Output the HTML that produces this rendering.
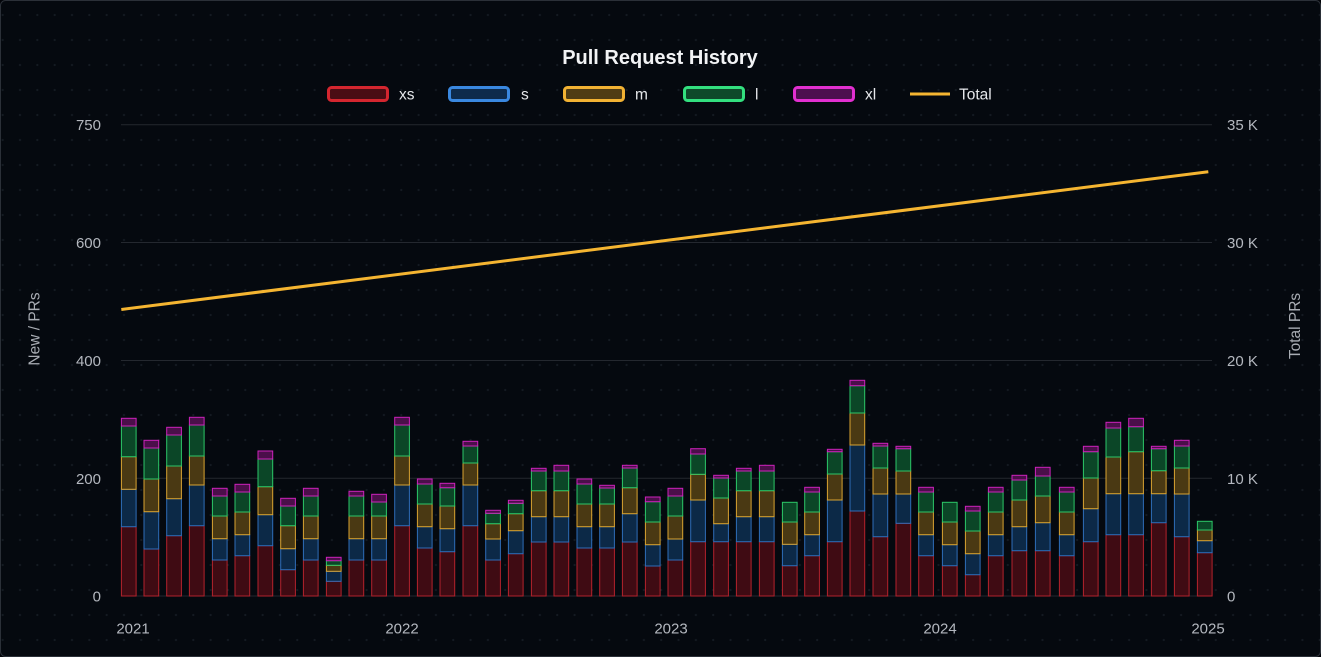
<!DOCTYPE html>
<html><head><meta charset="utf-8"><style>
html,body{margin:0;padding:0;background:#020409;}
svg{display:block;font-family:"Liberation Sans",Arial,sans-serif;}
.a{fill:#3f0b13;stroke:#b3222c;stroke-width:1}
.b{fill:#0c2947;stroke:#2e6db8;stroke-width:1}
.c{fill:#4a3913;stroke:#d9a331;stroke-width:1}
.d{fill:#0b4627;stroke:#2cc768;stroke-width:1}
.e{fill:#4b0f4a;stroke:#cc22bb;stroke-width:1}
.t{fill:#b4b8bf;font-size:15px}
.lg{fill:#e6e8eb;font-size:15.5px}
</style></head><body>
<svg width="1321" height="657" viewBox="0 0 1321 657" xmlns="http://www.w3.org/2000/svg">
<defs>
<pattern id="dots" x="0" y="0" width="17.33" height="25" patternUnits="userSpaceOnUse">
<circle cx="2.67" cy="15" r="1.1" fill="#141a22"/>
</pattern>
</defs>
<rect x="0.5" y="0.5" width="1320" height="656" rx="5" fill="#05090f" stroke="#2b3038"/>
<rect x="1" y="1" width="1319" height="655" rx="5" fill="url(#dots)"/>

<text x="660" y="64" text-anchor="middle" fill="#f2f3f5" font-size="20" font-weight="bold">Pull Request History</text>

<rect x="328.5" y="87.5" width="59" height="13" rx="3" fill="#4a0d14" stroke="#d4262f" stroke-width="3"/>
<text x="399" y="99.5" class="lg">xs</text>
<rect x="449.5" y="87.5" width="59" height="13" rx="3" fill="#0e2b4c" stroke="#3a88e0" stroke-width="3"/>
<text x="521" y="99.5" class="lg">s</text>
<rect x="564.5" y="87.5" width="59" height="13" rx="3" fill="#4f3c14" stroke="#f2b233" stroke-width="3"/>
<text x="635" y="99.5" class="lg">m</text>
<rect x="684.5" y="87.5" width="59" height="13" rx="3" fill="#0e4a2a" stroke="#33e07f" stroke-width="3"/>
<text x="755" y="99.5" class="lg">l</text>
<rect x="794.5" y="87.5" width="59" height="13" rx="3" fill="#4d0f4f" stroke="#e22fd0" stroke-width="3"/>
<text x="865" y="99.5" class="lg">xl</text>
<line x1="910" y1="94" x2="950" y2="94" stroke="#f5b531" stroke-width="3"/>
<text x="959" y="99.5" class="lg">Total</text>

<g stroke="#24282f" stroke-width="1">
<line x1="121" y1="124.7" x2="1212" y2="124.7"/>
<line x1="121" y1="242.5" x2="1212" y2="242.5"/>
<line x1="121" y1="360.5" x2="1212" y2="360.5"/>
<line x1="121" y1="478.3" x2="1212" y2="478.3"/>
<line x1="121" y1="596" x2="1212" y2="596"/>
</g>

<g class="t" text-anchor="end">
<text x="101" y="130.2">750</text>
<text x="101" y="248">600</text>
<text x="101" y="366">400</text>
<text x="101" y="483.8">200</text>
<text x="101" y="601.5">0</text>
</g>
<g class="t">
<text x="1227" y="130.2">35 K</text>
<text x="1227" y="248">30 K</text>
<text x="1227" y="366">20 K</text>
<text x="1227" y="483.8">10 K</text>
<text x="1227" y="601.5">0</text>
</g>
<g class="t" text-anchor="middle">
<text x="133" y="633.5">2021</text>
<text x="402" y="633.5">2022</text>
<text x="671" y="633.5">2023</text>
<text x="940" y="633.5">2024</text>
<text x="1208" y="633.5">2025</text>
</g>
<text transform="translate(39.5,329) rotate(-90)" text-anchor="middle" fill="#a9adb4" font-size="15.5">New / PRs</text>
<text transform="translate(1300,326) rotate(-90)" text-anchor="middle" fill="#a9adb4" font-size="15.5">Total PRs</text>

<g>
<rect class="a" x="121.4" y="526.7" width="14.7" height="69.3"/><rect class="b" x="121.4" y="489.3" width="14.7" height="37.4"/><rect class="c" x="121.4" y="456.7" width="14.7" height="32.6"/><rect class="d" x="121.4" y="426" width="14.7" height="30.7"/><rect class="e" x="121.4" y="418.3" width="14.7" height="7.7"/>
<rect class="a" x="144" y="549" width="14.7" height="47"/><rect class="b" x="144" y="511.7" width="14.7" height="37.3"/><rect class="c" x="144" y="479" width="14.7" height="32.7"/><rect class="d" x="144" y="448" width="14.7" height="31"/><rect class="e" x="144" y="440.3" width="14.7" height="7.7"/>
<rect class="a" x="166.7" y="535.7" width="14.7" height="60.3"/><rect class="b" x="166.7" y="498.7" width="14.7" height="37"/><rect class="c" x="166.7" y="466" width="14.7" height="32.7"/><rect class="d" x="166.7" y="435" width="14.7" height="31"/><rect class="e" x="166.7" y="427.3" width="14.7" height="7.7"/>
<rect class="a" x="189.4" y="525.7" width="14.7" height="70.3"/><rect class="b" x="189.4" y="485" width="14.7" height="40.7"/><rect class="c" x="189.4" y="456" width="14.7" height="29"/><rect class="d" x="189.4" y="425" width="14.7" height="31"/><rect class="e" x="189.4" y="417.3" width="14.7" height="7.7"/>
<rect class="a" x="212.4" y="560" width="14.7" height="36"/><rect class="b" x="212.4" y="538.7" width="14.7" height="21.3"/><rect class="c" x="212.4" y="516" width="14.7" height="22.7"/><rect class="d" x="212.4" y="496" width="14.7" height="20"/><rect class="e" x="212.4" y="488.3" width="14.7" height="7.7"/>
<rect class="a" x="235" y="555.7" width="14.7" height="40.3"/><rect class="b" x="235" y="534.7" width="14.7" height="21"/><rect class="c" x="235" y="512" width="14.7" height="22.7"/><rect class="d" x="235" y="492" width="14.7" height="20"/><rect class="e" x="235" y="484.3" width="14.7" height="7.7"/>
<rect class="a" x="258" y="545.7" width="14.7" height="50.3"/><rect class="b" x="258" y="514.7" width="14.7" height="31"/><rect class="c" x="258" y="486.7" width="14.7" height="28"/><rect class="d" x="258" y="459" width="14.7" height="27.7"/><rect class="e" x="258" y="451" width="14.7" height="8"/>
<rect class="a" x="280.7" y="569.7" width="14.7" height="26.3"/><rect class="b" x="280.7" y="548.7" width="14.7" height="21"/><rect class="c" x="280.7" y="525.7" width="14.7" height="23"/><rect class="d" x="280.7" y="506" width="14.7" height="19.7"/><rect class="e" x="280.7" y="498.3" width="14.7" height="7.7"/>
<rect class="a" x="303.4" y="560" width="14.7" height="36"/><rect class="b" x="303.4" y="538.7" width="14.7" height="21.3"/><rect class="c" x="303.4" y="516" width="14.7" height="22.7"/><rect class="d" x="303.4" y="496" width="14.7" height="20"/><rect class="e" x="303.4" y="488.3" width="14.7" height="7.7"/>
<rect class="a" x="326.4" y="581.3" width="14.7" height="14.7"/><rect class="b" x="326.4" y="571.3" width="14.7" height="10"/><rect class="c" x="326.4" y="565.3" width="14.7" height="6"/><rect class="d" x="326.4" y="560.7" width="14.7" height="4.6"/><rect class="e" x="326.4" y="557.3" width="14.7" height="3.4"/>
<rect class="a" x="349" y="560" width="14.7" height="36"/><rect class="b" x="349" y="538.7" width="14.7" height="21.3"/><rect class="c" x="349" y="516" width="14.7" height="22.7"/><rect class="d" x="349" y="496" width="14.7" height="20"/><rect class="e" x="349" y="491.3" width="14.7" height="4.7"/>
<rect class="a" x="371.7" y="560" width="14.7" height="36"/><rect class="b" x="371.7" y="538.7" width="14.7" height="21.3"/><rect class="c" x="371.7" y="516" width="14.7" height="22.7"/><rect class="d" x="371.7" y="502" width="14.7" height="14"/><rect class="e" x="371.7" y="494.3" width="14.7" height="7.7"/>
<rect class="a" x="394.7" y="525.7" width="14.7" height="70.3"/><rect class="b" x="394.7" y="485" width="14.7" height="40.7"/><rect class="c" x="394.7" y="456" width="14.7" height="29"/><rect class="d" x="394.7" y="425" width="14.7" height="31"/><rect class="e" x="394.7" y="417.3" width="14.7" height="7.7"/>
<rect class="a" x="417.4" y="548" width="14.7" height="48"/><rect class="b" x="417.4" y="526.7" width="14.7" height="21.3"/><rect class="c" x="417.4" y="504" width="14.7" height="22.7"/><rect class="d" x="417.4" y="484" width="14.7" height="20"/><rect class="e" x="417.4" y="479" width="14.7" height="5"/>
<rect class="a" x="440" y="551.7" width="14.7" height="44.3"/><rect class="b" x="440" y="528.7" width="14.7" height="23"/><rect class="c" x="440" y="506" width="14.7" height="22.7"/><rect class="d" x="440" y="487.7" width="14.7" height="18.3"/><rect class="e" x="440" y="483.3" width="14.7" height="4.4"/>
<rect class="a" x="463" y="525.7" width="14.7" height="70.3"/><rect class="b" x="463" y="485" width="14.7" height="40.7"/><rect class="c" x="463" y="463" width="14.7" height="22"/><rect class="d" x="463" y="446" width="14.7" height="17"/><rect class="e" x="463" y="441.3" width="14.7" height="4.7"/>
<rect class="a" x="485.7" y="560" width="14.7" height="36"/><rect class="b" x="485.7" y="539" width="14.7" height="21"/><rect class="c" x="485.7" y="523.7" width="14.7" height="15.3"/><rect class="d" x="485.7" y="513.3" width="14.7" height="10.4"/><rect class="e" x="485.7" y="510.3" width="14.7" height="3"/>
<rect class="a" x="508.4" y="553.7" width="14.7" height="42.3"/><rect class="b" x="508.4" y="530.7" width="14.7" height="23"/><rect class="c" x="508.4" y="513.7" width="14.7" height="17"/><rect class="d" x="508.4" y="503.3" width="14.7" height="10.4"/><rect class="e" x="508.4" y="500.3" width="14.7" height="3"/>
<rect class="a" x="531.4" y="542" width="14.7" height="54"/><rect class="b" x="531.4" y="516.7" width="14.7" height="25.3"/><rect class="c" x="531.4" y="490.7" width="14.7" height="26"/><rect class="d" x="531.4" y="471" width="14.7" height="19.7"/><rect class="e" x="531.4" y="468.3" width="14.7" height="2.7"/>
<rect class="a" x="554" y="542" width="14.7" height="54"/><rect class="b" x="554" y="516.7" width="14.7" height="25.3"/><rect class="c" x="554" y="490.7" width="14.7" height="26"/><rect class="d" x="554" y="471" width="14.7" height="19.7"/><rect class="e" x="554" y="465.3" width="14.7" height="5.7"/>
<rect class="a" x="577" y="548" width="14.7" height="48"/><rect class="b" x="577" y="526.7" width="14.7" height="21.3"/><rect class="c" x="577" y="504" width="14.7" height="22.7"/><rect class="d" x="577" y="484" width="14.7" height="20"/><rect class="e" x="577" y="479" width="14.7" height="5"/>
<rect class="a" x="599.7" y="548" width="14.7" height="48"/><rect class="b" x="599.7" y="526.7" width="14.7" height="21.3"/><rect class="c" x="599.7" y="504" width="14.7" height="22.7"/><rect class="d" x="599.7" y="488" width="14.7" height="16"/><rect class="e" x="599.7" y="485.3" width="14.7" height="2.7"/>
<rect class="a" x="622.4" y="542" width="14.7" height="54"/><rect class="b" x="622.4" y="513.7" width="14.7" height="28.3"/><rect class="c" x="622.4" y="487.7" width="14.7" height="26"/><rect class="d" x="622.4" y="468" width="14.7" height="19.7"/><rect class="e" x="622.4" y="465.3" width="14.7" height="2.7"/>
<rect class="a" x="645.4" y="566" width="14.7" height="30"/><rect class="b" x="645.4" y="544.7" width="14.7" height="21.3"/><rect class="c" x="645.4" y="522" width="14.7" height="22.7"/><rect class="d" x="645.4" y="501.7" width="14.7" height="20.3"/><rect class="e" x="645.4" y="497" width="14.7" height="4.7"/>
<rect class="a" x="668" y="560" width="14.7" height="36"/><rect class="b" x="668" y="539" width="14.7" height="21"/><rect class="c" x="668" y="516" width="14.7" height="23"/><rect class="d" x="668" y="496" width="14.7" height="20"/><rect class="e" x="668" y="488.3" width="14.7" height="7.7"/>
<rect class="a" x="690.7" y="541.7" width="14.7" height="54.3"/><rect class="b" x="690.7" y="500" width="14.7" height="41.7"/><rect class="c" x="690.7" y="474.3" width="14.7" height="25.7"/><rect class="d" x="690.7" y="454" width="14.7" height="20.3"/><rect class="e" x="690.7" y="448.7" width="14.7" height="5.3"/>
<rect class="a" x="713.7" y="541.7" width="14.7" height="54.3"/><rect class="b" x="713.7" y="523.7" width="14.7" height="18"/><rect class="c" x="713.7" y="498" width="14.7" height="25.7"/><rect class="d" x="713.7" y="478" width="14.7" height="20"/><rect class="e" x="713.7" y="475.3" width="14.7" height="2.7"/>
<rect class="a" x="736.4" y="541.7" width="14.7" height="54.3"/><rect class="b" x="736.4" y="516.7" width="14.7" height="25"/><rect class="c" x="736.4" y="490.7" width="14.7" height="26"/><rect class="d" x="736.4" y="471" width="14.7" height="19.7"/><rect class="e" x="736.4" y="468.3" width="14.7" height="2.7"/>
<rect class="a" x="759.4" y="541.7" width="14.7" height="54.3"/><rect class="b" x="759.4" y="516.7" width="14.7" height="25"/><rect class="c" x="759.4" y="490.7" width="14.7" height="26"/><rect class="d" x="759.4" y="471" width="14.7" height="19.7"/><rect class="e" x="759.4" y="465.3" width="14.7" height="5.7"/>
<rect class="a" x="782.4" y="565.7" width="14.7" height="30.3"/><rect class="b" x="782.4" y="544.3" width="14.7" height="21.4"/><rect class="c" x="782.4" y="522" width="14.7" height="22.3"/><rect class="d" x="782.4" y="502.3" width="14.7" height="19.7"/>
<rect class="a" x="804.7" y="555.7" width="14.7" height="40.3"/><rect class="b" x="804.7" y="534.7" width="14.7" height="21"/><rect class="c" x="804.7" y="512" width="14.7" height="22.7"/><rect class="d" x="804.7" y="492" width="14.7" height="20"/><rect class="e" x="804.7" y="487.3" width="14.7" height="4.7"/>
<rect class="a" x="827.4" y="541.7" width="14.7" height="54.3"/><rect class="b" x="827.4" y="500" width="14.7" height="41.7"/><rect class="c" x="827.4" y="474" width="14.7" height="26"/><rect class="d" x="827.4" y="451.7" width="14.7" height="22.3"/><rect class="e" x="827.4" y="449.3" width="14.7" height="2.4"/>
<rect class="a" x="850" y="511" width="14.7" height="85"/><rect class="b" x="850" y="445" width="14.7" height="66"/><rect class="c" x="850" y="413" width="14.7" height="32"/><rect class="d" x="850" y="385.7" width="14.7" height="27.3"/><rect class="e" x="850" y="380.3" width="14.7" height="5.4"/>
<rect class="a" x="873" y="536.7" width="14.7" height="59.3"/><rect class="b" x="873" y="494" width="14.7" height="42.7"/><rect class="c" x="873" y="468" width="14.7" height="26"/><rect class="d" x="873" y="446" width="14.7" height="22"/><rect class="e" x="873" y="443.3" width="14.7" height="2.7"/>
<rect class="a" x="896" y="523.3" width="14.7" height="72.7"/><rect class="b" x="896" y="494" width="14.7" height="29.3"/><rect class="c" x="896" y="471" width="14.7" height="23"/><rect class="d" x="896" y="448.7" width="14.7" height="22.3"/><rect class="e" x="896" y="446.3" width="14.7" height="2.4"/>
<rect class="a" x="918.7" y="555.7" width="14.7" height="40.3"/><rect class="b" x="918.7" y="534.7" width="14.7" height="21"/><rect class="c" x="918.7" y="512" width="14.7" height="22.7"/><rect class="d" x="918.7" y="492" width="14.7" height="20"/><rect class="e" x="918.7" y="487.3" width="14.7" height="4.7"/>
<rect class="a" x="942.4" y="565.7" width="14.7" height="30.3"/><rect class="b" x="942.4" y="544.7" width="14.7" height="21"/><rect class="c" x="942.4" y="522" width="14.7" height="22.7"/><rect class="d" x="942.4" y="502.3" width="14.7" height="19.7"/>
<rect class="a" x="965.4" y="574.7" width="14.7" height="21.3"/><rect class="b" x="965.4" y="553.7" width="14.7" height="21"/><rect class="c" x="965.4" y="531" width="14.7" height="22.7"/><rect class="d" x="965.4" y="511" width="14.7" height="20"/><rect class="e" x="965.4" y="506.3" width="14.7" height="4.7"/>
<rect class="a" x="988.4" y="555.7" width="14.7" height="40.3"/><rect class="b" x="988.4" y="534.7" width="14.7" height="21"/><rect class="c" x="988.4" y="512" width="14.7" height="22.7"/><rect class="d" x="988.4" y="492" width="14.7" height="20"/><rect class="e" x="988.4" y="487.3" width="14.7" height="4.7"/>
<rect class="a" x="1012" y="550.7" width="14.7" height="45.3"/><rect class="b" x="1012" y="526.7" width="14.7" height="24"/><rect class="c" x="1012" y="500" width="14.7" height="26.7"/><rect class="d" x="1012" y="480" width="14.7" height="20"/><rect class="e" x="1012" y="475.3" width="14.7" height="4.7"/>
<rect class="a" x="1035.4" y="550.7" width="14.7" height="45.3"/><rect class="b" x="1035.4" y="522.7" width="14.7" height="28"/><rect class="c" x="1035.4" y="496" width="14.7" height="26.7"/><rect class="d" x="1035.4" y="476" width="14.7" height="20"/><rect class="e" x="1035.4" y="467.3" width="14.7" height="8.7"/>
<rect class="a" x="1059.4" y="555.7" width="14.7" height="40.3"/><rect class="b" x="1059.4" y="534.7" width="14.7" height="21"/><rect class="c" x="1059.4" y="512" width="14.7" height="22.7"/><rect class="d" x="1059.4" y="492" width="14.7" height="20"/><rect class="e" x="1059.4" y="487.3" width="14.7" height="4.7"/>
<rect class="a" x="1083.4" y="541.7" width="14.7" height="54.3"/><rect class="b" x="1083.4" y="508.7" width="14.7" height="33"/><rect class="c" x="1083.4" y="478" width="14.7" height="30.7"/><rect class="d" x="1083.4" y="451.7" width="14.7" height="26.3"/><rect class="e" x="1083.4" y="446.3" width="14.7" height="5.4"/>
<rect class="a" x="1106" y="534.7" width="14.7" height="61.3"/><rect class="b" x="1106" y="493.7" width="14.7" height="41"/><rect class="c" x="1106" y="457" width="14.7" height="36.7"/><rect class="d" x="1106" y="428" width="14.7" height="29"/><rect class="e" x="1106" y="422.3" width="14.7" height="5.7"/>
<rect class="a" x="1128.7" y="534.7" width="14.7" height="61.3"/><rect class="b" x="1128.7" y="493.7" width="14.7" height="41"/><rect class="c" x="1128.7" y="451.7" width="14.7" height="42"/><rect class="d" x="1128.7" y="426.7" width="14.7" height="25"/><rect class="e" x="1128.7" y="418.3" width="14.7" height="8.4"/>
<rect class="a" x="1151.4" y="522.7" width="14.7" height="73.3"/><rect class="b" x="1151.4" y="493.7" width="14.7" height="29"/><rect class="c" x="1151.4" y="470.7" width="14.7" height="23"/><rect class="d" x="1151.4" y="448.7" width="14.7" height="22"/><rect class="e" x="1151.4" y="446.3" width="14.7" height="2.4"/>
<rect class="a" x="1174.4" y="536.7" width="14.7" height="59.3"/><rect class="b" x="1174.4" y="494" width="14.7" height="42.7"/><rect class="c" x="1174.4" y="468" width="14.7" height="26"/><rect class="d" x="1174.4" y="446" width="14.7" height="22"/><rect class="e" x="1174.4" y="440.3" width="14.7" height="5.7"/>
<rect class="a" x="1197.4" y="552.7" width="14.7" height="43.3"/><rect class="b" x="1197.4" y="540.7" width="14.7" height="12"/><rect class="c" x="1197.4" y="530" width="14.7" height="10.7"/><rect class="d" x="1197.4" y="521.3" width="14.7" height="8.7"/>
</g>

<line x1="121.3" y1="309.5" x2="1208.3" y2="171.7" stroke="#f5b531" stroke-width="3"/>
</svg>
</body></html>
